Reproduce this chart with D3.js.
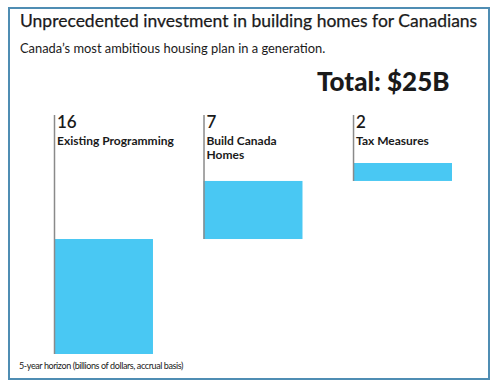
<!DOCTYPE html>
<meta charset="utf-8">
<style>
  body { margin: 0; background: #fff; font-family: Lato, "Noto Sans", sans-serif; }
  svg text { fill: #1a1a1a; }
</style>
<script src="https://d3js.org/d3.v7.min.js"></script>
<body>
<script>
// categories and the labelled amounts (billions)
var categories = ["Existing Programming", "Build Canada Homes", "Tax Measures"];
var amounts = [16, 7, 2];
// bar lengths as drawn in the chart (billions, not exactly to label scale)
var barLengths = [15.05, 7.6, 2.35];
var labelLines = [["Existing Programming"], ["Build Canada", "Homes"], ["Tax Measures"]];
var total = 25;

var width = 500, height = 392;

var svg = d3.select("body").append("svg")
    .attr("width", width)
    .attr("height", height);

// frame
svg.append("rect")
    .attr("x", 9).attr("y", 8)
    .attr("width", 480).attr("height", 371)
    .attr("fill", "none")
    .attr("stroke", "#4f8db3")
    .attr("stroke-width", 2);

svg.append("text")
    .attr("x", 20).attr("y", 27)
    .style("font-size", "17.5px")
    .style("stroke", "#1a1a1a")
    .style("stroke-width", "0.25px")
    .text("Unprecedented investment in building homes for Canadians");

svg.append("text")
    .attr("x", 20).attr("y", 53)
    .style("font-size", "12.9px")
    .text("Canada\u2019s most ambitious housing plan in a generation.");

svg.append("text")
    .attr("x", 317).attr("y", 91)
    .style("font-size", "26px")
    .style("font-weight", "900")
    .text("Total: $" + total + "B");

// waterfall stacking
var data = categories.map(function(c, i) {
    var start = d3.sum(barLengths.slice(0, i));
    return { name: c, amount: amounts[i], lines: labelLines[i], start: start, end: start + barLengths[i] };
});

var x = d3.scaleBand()
    .domain(categories)
    .range([54, 452])
    .paddingInner(0.338)
    .paddingOuter(0);

var y = d3.scaleLinear()
    .domain([0, total])
    .range([354, 163]);

var lineTop = 115;

var g = svg.selectAll(".col").data(data).enter().append("g")
    .attr("class", "col");

g.append("rect")
    .attr("x", function(d) { return x(d.name); })
    .attr("y", function(d) { return y(d.end); })
    .attr("width", x.bandwidth())
    .attr("height", function(d) { return y(d.start) - y(d.end); })
    .attr("fill", "#49c8f3");

g.append("line")
    .attr("x1", function(d) { return x(d.name) + 0.5; })
    .attr("x2", function(d) { return x(d.name) + 0.5; })
    .attr("y1", lineTop)
    .attr("y2", function(d) { return y(d.start); })
    .attr("stroke", "#8a8a8a")
    .attr("stroke-width", 1.5);

g.append("text")
    .attr("x", function(d) { return x(d.name) + 3; })
    .attr("y", 128)
    .style("font-size", "17px")
    .style("font-weight", "600")
    .text(function(d) { return d.amount; });

g.append("text")
    .attr("x", function(d) { return x(d.name) + 3; })
    .attr("y", 145)
    .style("font-size", "12px")
    .style("font-weight", "bold")
    .selectAll("tspan")
    .data(function(d) { return d.lines; })
    .enter().append("tspan")
    .attr("x", function() { return x(d3.select(this.parentNode).datum().name) + 3; })
    .attr("dy", function(d, i) { return i ? 14 : 0; })
    .text(function(d) { return d; });

svg.append("text")
    .attr("x", 19).attr("y", 369)
    .style("font-size", "9px")
    .style("letter-spacing", "-0.4px")
    .text("5-year horizon (billions of dollars, accrual basis)");
</script>
</body>
